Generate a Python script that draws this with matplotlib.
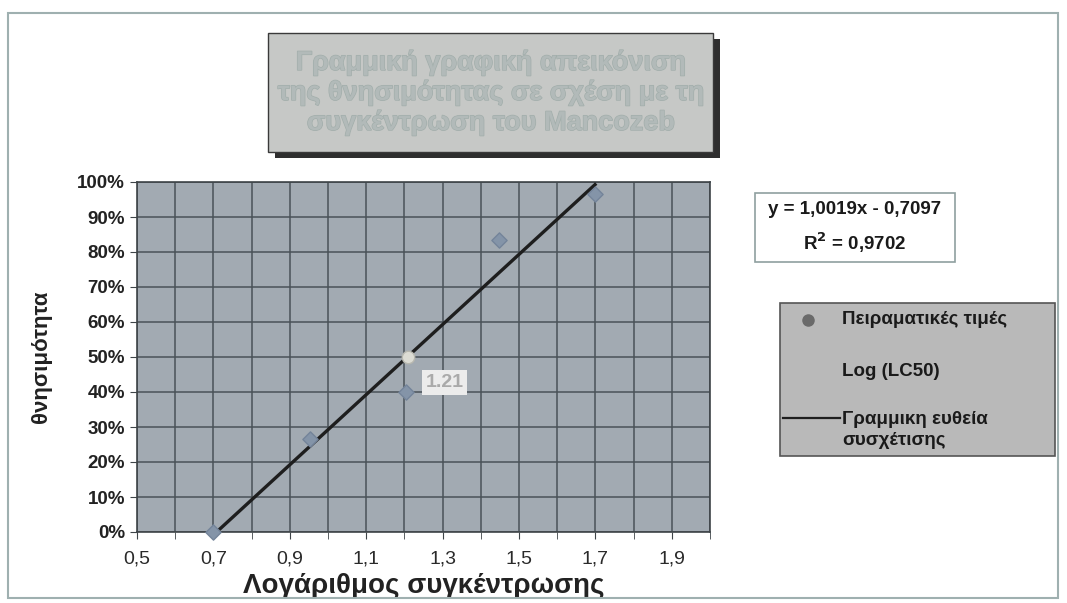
import matplotlib
matplotlib.use("Agg")
import matplotlib.pyplot as plt
from matplotlib.patches import Rectangle
from matplotlib.ticker import FuncFormatter, MultipleLocator
import matplotlib.patheffects as pe
import numpy as np

plt.rcParams['font.family'] = ['Liberation Sans', 'DejaVu Sans']

# ===============================
# Data
# ===============================
log_conc = [0.699, 0.954, 1.204, 1.447, 1.699]
mortality = [0.0, 0.267, 0.40, 0.833, 0.967]
lc50_x = [1.21]
lc50_y = [0.50]
lc50_label = "1.21"
slope = 1.0019
intercept = -0.7097
r2 = 0.9702
x_ticks = [0.5, 0.7, 0.9, 1.1, 1.3, 1.5, 1.7, 1.9]
x_tick_labels = ["0,5", "0,7", "0,9", "1,1", "1,3", "1,5", "1,7", "1,9"]
title_lines = ["Γραμμική γραφική απεικόνιση",
               "της θνησιμότητας σε σχέση με τη",
               "συγκέντρωση του Mancozeb"]
legend_labels = ["Πειραματικές τιμές", "Log (LC50)", "Γραμμικη ευθεία\nσυσχέτισης"]

W, H = 1067, 603
fig = plt.figure(figsize=(W / 100, H / 100), dpi=100)
fig.patch.set_facecolor("white")


def fx(px):
    return px / W


def fy(py):
    return 1 - py / H


# outer chart frame
fig.add_artist(Rectangle((fx(8), fy(598)), fx(1058 - 8), 585 / H,
                         transform=fig.transFigure, fill=False,
                         edgecolor="#9fb0b0", linewidth=1.5))

# ===============================
# Plot area
# ===============================
ax = fig.add_axes([fx(137), fy(532), fx(710 - 137), 350 / H])
ax.set_facecolor("#a2aab2")
ax.set_xlim(0.5, 2.0)
ax.set_ylim(0, 1.0)

ax.set_xticks(x_ticks, x_tick_labels)
ax.xaxis.set_minor_locator(MultipleLocator(0.1))
ax.yaxis.set_major_locator(MultipleLocator(0.1))
ax.grid(True, which="both", color="#4a5258", linewidth=1.1)
ax.set_axisbelow(True)
for s in ax.spines.values():
    s.set_color("#3e4448")
    s.set_linewidth(1.2)

ax.tick_params(axis="x", which="both", length=5, color="#3e4448")
ax.tick_params(axis="x", which="major", pad=8, labelsize=14, labelcolor="#2a2a2a")
ax.yaxis.set_major_formatter(FuncFormatter(lambda v, p: f"{v * 100:.0f}%"))
ax.tick_params(axis="y", length=5, color="#3e4448", labelsize=13.5, labelcolor="#222222")
for lab in ax.get_yticklabels():
    lab.set_fontweight("bold")

# trendline
line_x = np.array([log_conc[0], log_conc[-1]])
ax.plot(line_x, slope * line_x + intercept, color="#1e1e1e", linewidth=2.4, zorder=3)

# experimental points
ax.scatter(log_conc, mortality, marker="D", s=60, color="#8494a8",
           edgecolor="#74849a", zorder=4, clip_on=False)
# LC50 point
ax.scatter(lc50_x, lc50_y, marker="o", s=80, color="#dcdcd4",
           edgecolor="#b8b8b0", zorder=5)
ax.text(lc50_x[0] + 0.095, lc50_y[0] - 0.072, lc50_label, fontsize=14, fontweight="bold",
        color="#aaaaaa", ha="center", va="center", zorder=6,
        bbox=dict(boxstyle="square,pad=0.2", facecolor="#ececec", edgecolor="none"))

ax.set_xlabel("Λογάριθμος συγκέντρωσης", fontsize=20, fontweight="bold", color="#222222")
ax.xaxis.set_label_coords(0.5, -0.118)
ax.set_ylabel("θνησιμότητα", fontsize=16, fontweight="bold", color="#222222")
ax.yaxis.set_label_coords(-0.148, 0.5)

# ===============================
# Title box with shadow
# ===============================
fig.add_artist(Rectangle((fx(275), fy(158)), fx(445), 119 / H,
                         transform=fig.transFigure, facecolor="#2e2e2e", edgecolor="none"))
fig.add_artist(Rectangle((fx(268), fy(152)), fx(445), 119 / H,
                         transform=fig.transFigure, facecolor="#c6c8c6",
                         edgecolor="#3a3a3a", linewidth=1.0))
fig.text(fx(491), fy(93), "\n".join(title_lines), ha="center", va="center",
         fontsize=19.5, fontweight="bold", color="#b2bab9", linespacing=1.2,
         path_effects=[pe.withStroke(linewidth=1.0, foreground="#a2aeab")])

# ===============================
# Equation box
# ===============================
fig.add_artist(Rectangle((fx(755), fy(262)), fx(200), 69 / H,
                         transform=fig.transFigure, facecolor="white",
                         edgecolor="#8fa0a0", linewidth=1.2))
fig.text(fx(855), fy(209), f"y = {slope:.4f}x - {abs(intercept):.4f}".replace(".", ","),
         ha="center", va="center", fontsize=13.5, fontweight="bold", color="#1a1a1a")
fig.text(fx(855), fy(243), f"R$^\\mathbf{{2}}$ = {r2:.4f}".replace(".", ","),
         ha="center", va="center", fontsize=13.5, fontweight="bold", color="#1a1a1a")

# ===============================
# Legend box
# ===============================
fig.add_artist(Rectangle((fx(780), fy(456)), fx(275), 153 / H,
                         transform=fig.transFigure, facecolor="#b9b9b9",
                         edgecolor="#555555", linewidth=1.2))
fig.add_artist(plt.Line2D([fx(808)], [fy(320)], marker="o", markersize=8,
                          color="#6a6a6a", transform=fig.transFigure))
fig.add_artist(plt.Line2D([fx(783), fx(840)], [fy(418), fy(418)], color="#1e1e1e",
                          linewidth=1.6, transform=fig.transFigure))
fig.text(fx(842), fy(320), legend_labels[0], ha="left", va="center", fontsize=13.5,
         fontweight="bold", color="#1a1a1a")
fig.text(fx(842), fy(371), legend_labels[1], ha="left", va="center", fontsize=13.5,
         fontweight="bold", color="#1a1a1a")
fig.text(fx(842), fy(430), legend_labels[2], ha="left", va="center", fontsize=13.5,
         fontweight="bold", color="#1a1a1a", linespacing=1.3)

fig.savefig("out.png", dpi=100, facecolor="white")
